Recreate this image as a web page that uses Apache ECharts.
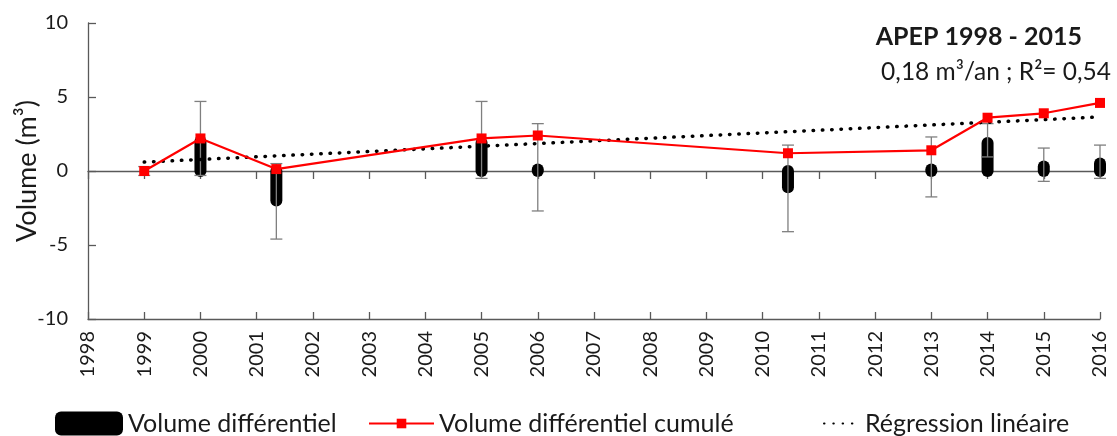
<!DOCTYPE html>
<html>
<head>
<meta charset="utf-8">
<script src="https://cdn.jsdelivr.net/npm/echarts@6/dist/echarts.min.js"></script>
<style>
html, body { margin: 0; padding: 0; background: #fff; }
#main { width: 1117px; height: 436px; }
</style>
</head>
<body>
<div id="main"></div>
<script>
// dates des levés (années décimales)
var dates = [1999, 2000, 2001.35, 2005, 2006, 2010.45, 2013, 2014, 2015, 2016];
var volDiff = [0, 2.0, -2.0, 1.9, 0.1, -1.1, 0.1, 1.9, 0.3, 0.5];
var errLow = [-0.3, -0.3, -4.6, -0.5, -2.7, -4.1, -1.75, 0.95, -0.7, -0.5];
var errHigh = [0.3, 4.7, 0.5, 4.7, 3.2, 1.75, 2.3, 3.2, 1.55, 1.75];
var volCumul = [0, 2.2, 0.13, 2.2, 2.4, 1.2, 1.4, 3.6, 3.9, 4.6];
var regYears = [1999, 2016];
var regValues = [0.6, 3.65];

var FONT = 'Lato';
var TXT = '#1a1a1a';
var AXE = '#595959';
// \u200c : évite la ligature "ti" de Lato
var nomDiff = 'Volume différen\u200ctiel';
var nomCumul = 'Volume différen\u200ctiel cumulé';
var nomReg = 'Régression linéaire';

var diffData = [], errData = [], cumulData = [], regData = [];
for (var i = 0; i < dates.length; i++) {
    diffData.push([dates[i], volDiff[i]]);
    errData.push([dates[i], errLow[i], errHigh[i]]);
    cumulData.push([dates[i], volCumul[i]]);
}
for (var j = 0; j < regYears.length; j++) {
    regData.push([regYears[j], regValues[j]]);
}

var xBase = { type: 'value', min: 1998, max: 2016, interval: 1, splitLine: { show: false } };
var legendText = { fontFamily: FONT, fontSize: 25, color: TXT };

var myChart = echarts.init(document.getElementById('main'));
var option = {
    animation: false,
    title: [{
        text: 'APEP 1998 - 2015',
        right: 30, top: 19,
        textStyle: { fontFamily: FONT, fontSize: 25, fontWeight: 'bold', color: TXT }
    }, {
        text: '0,18 m³/an ; R²= 0,54',
        right: 1, top: 55,
        textStyle: { fontFamily: FONT, fontSize: 24.5, fontWeight: 'normal', color: TXT }
    }],
    legend: [{
        left: 50, top: 406, itemWidth: 68, itemHeight: 24,
        data: [{ name: nomDiff, icon: 'roundRect', itemStyle: { color: '#000' } }],
        textStyle: legendText
    }, {
        left: 363, top: 406, itemWidth: 65, itemHeight: 12,
        data: [nomCumul],
        textStyle: legendText
    }, {
        left: 818, top: 406, itemWidth: 36, itemHeight: 12,
        data: [nomReg],
        itemStyle: { opacity: 0 },
        textStyle: legendText
    }],
    grid: { left: 88, right: 17, top: 23, bottom: 117, containLabel: false, outerBoundsMode: 'none' },
    xAxis: [
        Object.assign({}, xBase, {
            position: 'bottom',
            axisLine: { show: false, onZero: false },
            axisTick: { show: false },
            axisLabel: {
                rotate: 90, margin: 12,
                fontFamily: FONT, fontSize: 20, color: TXT,
                formatter: function (v) { return String(v); }
            }
        }),
        Object.assign({}, xBase, {
            position: 'bottom',
            axisLine: { show: true, onZero: true, lineStyle: { color: AXE, width: 1.3 } },
            axisTick: { show: true, length: 8, lineStyle: { color: AXE, width: 1.3 } },
            axisLabel: { show: false }
        }),
        Object.assign({}, xBase, {
            position: 'bottom',
            axisLine: { show: true, onZero: true, lineStyle: { color: AXE, width: 1.3 } },
            axisTick: { show: true, inside: true, length: 7, lineStyle: { color: AXE, width: 1.3 } },
            axisLabel: { show: false }
        })
    ],
    yAxis: {
        type: 'value', min: -10, max: 10, interval: 5,
        name: 'Volume (m³)',
        nameLocation: 'middle', nameRotate: 90, nameGap: 47,
        nameMoveOverlap: false,
        nameTextStyle: { fontFamily: FONT, fontSize: 27, color: TXT },
        axisLine: { show: true, onZero: false, lineStyle: { color: AXE, width: 1.3 } },
        axisTick: { show: true, inside: true, length: 8, lineStyle: { color: AXE, width: 1.3 } },
        axisLabel: { margin: 20, fontFamily: FONT, fontSize: 20, color: TXT },
        splitLine: { show: false }
    },
    series: [{
        name: nomDiff,
        type: 'custom',
        z: 2,
        data: diffData,
        renderItem: function (params, api) {
            var x = api.value(0), v = api.value(1);
            if (v === 0) return null;
            var p0 = api.coord([x, 0]);
            var p1 = api.coord([x, v]);
            return {
                type: 'line',
                shape: { x1: p0[0], y1: p0[1], x2: p1[0], y2: p1[1] },
                style: { stroke: '#000', lineWidth: 12, lineCap: 'round' }
            };
        }
    }, {
        name: 'erreur',
        type: 'custom',
        z: 3,
        data: errData,
        renderItem: function (params, api) {
            var x = api.value(0);
            var lo = api.coord([x, api.value(1)]);
            var hi = api.coord([x, api.value(2)]);
            var st = { stroke: '#7f7f7f', lineWidth: 1.3 };
            return {
                type: 'group',
                children: [
                    { type: 'line', shape: { x1: lo[0], y1: lo[1], x2: hi[0], y2: hi[1] }, style: st },
                    { type: 'line', shape: { x1: lo[0] - 6, y1: lo[1], x2: lo[0] + 6, y2: lo[1] }, style: st },
                    { type: 'line', shape: { x1: hi[0] - 6, y1: hi[1], x2: hi[0] + 6, y2: hi[1] }, style: st }
                ]
            };
        }
    }, {
        name: nomReg,
        type: 'line',
        z: 4,
        data: regData,
        symbol: 'none',
        itemStyle: { color: '#000' },
        lineStyle: { color: '#000', width: 3.5, type: [0.5, 8.8], cap: 'round' }
    }, {
        name: nomCumul,
        type: 'line',
        z: 5,
        data: cumulData,
        symbol: 'rect',
        symbolSize: 10,
        itemStyle: { color: '#ff0000' },
        lineStyle: { color: '#ff0000', width: 2.2 }
    }]
};
myChart.setOption(option);
</script>
</body>
</html>
